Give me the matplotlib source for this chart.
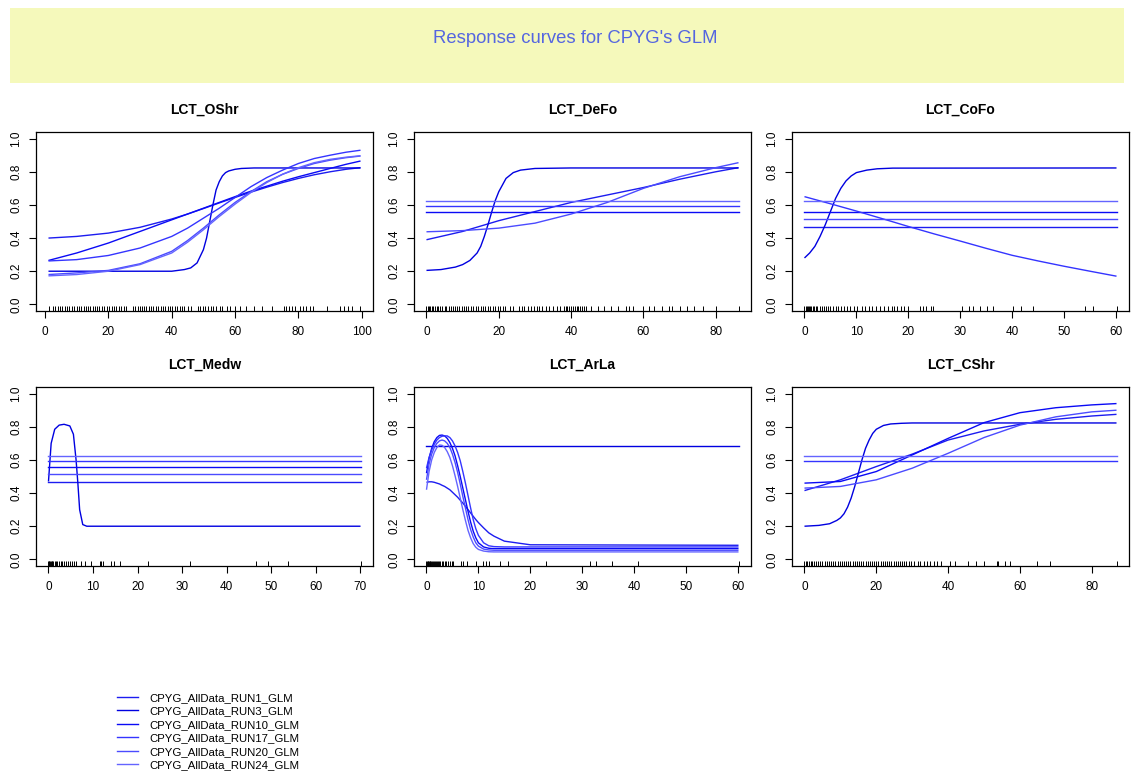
import matplotlib
matplotlib.use("Agg")
import matplotlib.pyplot as plt
from matplotlib.lines import Line2D
from matplotlib.patches import Rectangle
import matplotlib.transforms as mtrans

plt.rcParams['font.family'] = ['Liberation Sans', 'DejaVu Sans']

# ---------------- data ----------------
title = "Response curves for CPYG's GLM"
runs = ["CPYG_AllData_RUN1_GLM", "CPYG_AllData_RUN3_GLM", "CPYG_AllData_RUN10_GLM",
        "CPYG_AllData_RUN17_GLM", "CPYG_AllData_RUN20_GLM", "CPYG_AllData_RUN24_GLM"]
run_colors = ["#1c1cf0", "#0000e0", "#0a0af5", "#3434ff", "#4b4bff", "#6464ff"]
panel_titles = ["LCT_OShr", "LCT_DeFo", "LCT_CoFo", "LCT_Medw", "LCT_ArLa", "LCT_CShr"]
panel_xticks = [[0, 20, 40, 60, 80, 100], [0, 20, 40, 60, 80], [0, 10, 20, 30, 40, 50, 60],
                [0, 10, 20, 30, 40, 50, 60, 70], [0, 10, 20, 30, 40, 50, 60], [0, 20, 40, 60, 80]]
y_ticks = [0.0, 0.2, 0.4, 0.6, 0.8, 1.0]

# --- LCT_OShr ---
oshr_x = [1.1, 10, 20, 30, 40, 45, 50, 55, 60, 65, 70, 75, 80, 85, 90, 95, 99.6]
oshr_run1 = [0.40, 0.41, 0.43, 0.465, 0.515, 0.545, 0.578, 0.612, 0.645, 0.677, 0.707, 0.735, 0.76, 0.782, 0.80, 0.815, 0.825]
oshr_run10 = [0.265, 0.31, 0.37, 0.44, 0.51, 0.545, 0.58, 0.615, 0.65, 0.683, 0.713, 0.743, 0.77, 0.795, 0.82, 0.845, 0.865]
oshr_run17 = [0.262, 0.27, 0.295, 0.34, 0.41, 0.46, 0.52, 0.58, 0.645, 0.71, 0.765, 0.81, 0.85, 0.88, 0.90, 0.918, 0.93]
oshr_run20 = [0.18, 0.19, 0.205, 0.245, 0.32, 0.385, 0.46, 0.54, 0.615, 0.68, 0.74, 0.785, 0.82, 0.85, 0.87, 0.885, 0.895]
oshr_run24 = [0.172, 0.18, 0.20, 0.24, 0.31, 0.375, 0.45, 0.53, 0.605, 0.675, 0.735, 0.785, 0.825, 0.855, 0.875, 0.888, 0.897]
oshr_run3_x = [1.1, 40, 44, 46, 48, 50, 51, 52, 53, 54, 55, 56, 57, 58, 60, 62, 66, 99.6]
oshr_run3 = [0.20, 0.20, 0.21, 0.22, 0.25, 0.33, 0.40, 0.50, 0.60, 0.69, 0.74, 0.775, 0.795, 0.805, 0.815, 0.82, 0.823, 0.823]
oshr_rug = [1.3, 2.5, 3.2, 4.0, 4.8, 5.5, 6.3, 7.0, 7.6, 8.5, 9.3, 10.0, 10.8, 11.5, 12.2, 13.0, 13.6, 14.3,
            15.0, 15.8, 16.5, 17.2, 18.0, 18.7, 19.5, 20.2, 21.0, 21.8, 22.5, 23.3, 24.0, 24.8, 25.5, 27.8,
            28.5, 29.3, 30.0, 30.6, 31.3, 32.0, 32.8, 33.5, 34.2, 35.0, 35.7, 36.5, 37.2, 38.0, 38.8, 39.5,
            40.2, 41.0, 41.8, 42.5, 43.2, 44.0, 45.0, 46.0, 48.2, 49.0, 49.8, 50.6, 51.5, 52.3, 53.0, 54.0,
            55.2, 56.0, 57.5, 58.5, 60.0, 61.5, 63.5, 66.0, 68.5, 71.5, 75.3, 76.0, 77.0, 78.0, 79.0, 80.5,
            81.5, 82.5, 83.5, 84.5, 89.0, 93.2, 94.3, 95.5, 96.8, 99.5]

# --- LCT_DeFo ---
defo_x = [0, 10, 20, 30, 40, 50, 60, 70, 80, 86.3]
defo_run1 = [0.39, 0.44, 0.505, 0.56, 0.615, 0.66, 0.705, 0.755, 0.80, 0.825]
defo_run20 = [0.438, 0.445, 0.46, 0.49, 0.545, 0.615, 0.70, 0.77, 0.825, 0.855]
defo_run3_x = [0, 4, 8, 10, 12, 14, 15, 16, 17, 18, 19, 20, 22, 24, 26, 30, 40, 86.3]
defo_run3 = [0.205, 0.21, 0.225, 0.24, 0.265, 0.31, 0.35, 0.41, 0.48, 0.555, 0.625, 0.68, 0.76, 0.795, 0.81, 0.82, 0.823, 0.823]
defo_flat = {"CPYG_AllData_RUN10_GLM": 0.557, "CPYG_AllData_RUN17_GLM": 0.592, "CPYG_AllData_RUN24_GLM": 0.622}
defo_rug = [0, 0.3, 0.6, 1.0, 1.4, 1.8, 2.3, 2.8, 3.3, 3.8, 4.4, 5.0, 5.5, 6.1, 6.7, 7.2, 7.8, 8.4, 9.0,
            9.7, 10.3, 11.0, 11.6, 12.3, 13.0, 13.6, 14.3, 15.0, 15.7, 16.3, 17.0, 17.7, 18.4, 19.0, 19.7,
            20.4, 21.1, 21.8, 23.0, 24.0, 25.5, 26.3, 27.0, 28.0, 29.0, 29.8, 30.5, 31.2, 32.0, 33.0, 34.0,
            35.0, 36.0, 37.0, 38.0, 38.5, 39.0, 39.5, 40.0, 40.5, 41.0, 41.5, 42.0, 42.5, 43.0, 43.5, 44.0,
            45.5, 47.5, 49.0, 51.0, 53.0, 55.2, 56.0, 57.0, 60.0, 61.5, 63.0, 65.0, 67.0, 68.0, 70.0, 72.0,
            74.0, 76.5, 80.0, 86.3]

# --- LCT_CoFo ---
cofo_x = [0, 5, 10, 15, 20, 25, 30, 35, 40, 45, 50, 55, 60.1]
cofo_run17 = [0.65, 0.607, 0.563, 0.517, 0.47, 0.425, 0.382, 0.338, 0.296, 0.262, 0.23, 0.20, 0.17]
cofo_run3_x = [0, 1, 2, 3, 4, 5, 6, 7, 8, 9, 10, 12, 14, 17, 60.1]
cofo_run3 = [0.28, 0.31, 0.35, 0.41, 0.48, 0.56, 0.64, 0.70, 0.745, 0.775, 0.795, 0.81, 0.818, 0.822, 0.823]
cofo_flat = {"CPYG_AllData_RUN1_GLM": 0.469, "CPYG_AllData_RUN10_GLM": 0.557,
             "CPYG_AllData_RUN20_GLM": 0.515, "CPYG_AllData_RUN24_GLM": 0.622}
cofo_rug = [0, 0.2, 0.4, 0.6, 0.8, 1.0, 1.3, 1.6, 1.9, 2.2, 2.5, 2.9, 3.3, 3.7, 4.1, 4.5, 5.0, 5.5, 6.0,
            6.5, 7.0, 7.6, 8.2, 8.8, 9.5, 10.2, 11.0, 11.7, 12.5, 13.0, 13.8, 14.5, 15.3, 16.0, 16.8, 17.3,
            17.9, 18.5, 19.2, 20.0, 22.2, 22.8, 23.5, 24.3, 24.8, 30.3, 31.6, 32.5, 33.8, 35.1, 36.4, 40.1,
            41.7, 44.0, 54.0, 55.5, 60.1]

# --- LCT_Medw ---
medw_run3_x = [0, 0.6, 1.4, 2.4, 3.5, 4.8, 5.6, 6.2, 6.6, 7.0, 7.7, 8.6, 70.1]
medw_run3 = [0.47, 0.70, 0.785, 0.81, 0.815, 0.805, 0.755, 0.60, 0.46, 0.30, 0.21, 0.20, 0.20]
medw_flat = {"CPYG_AllData_RUN1_GLM": 0.469, "CPYG_AllData_RUN10_GLM": 0.557, "CPYG_AllData_RUN17_GLM": 0.592,
             "CPYG_AllData_RUN20_GLM": 0.515, "CPYG_AllData_RUN24_GLM": 0.622}
medw_rug = [0, 0.1, 0.2, 0.3, 0.5, 0.7, 0.9, 1.1, 1.4, 1.7, 2.0, 2.3, 2.7, 3.1, 3.5, 3.9, 4.3, 4.8, 5.3,
            5.8, 6.2, 7.3, 8.1, 9.6, 11.5, 11.8, 12.2, 14.1, 14.7, 16.0, 22.3, 31.7, 46.6, 49.3, 53.7, 70.1]

# --- LCT_ArLa ---
arla_x = [0, 0.5, 1, 1.5, 2, 2.5, 3, 3.5, 4, 4.5, 5, 5.5, 6, 6.5, 7, 7.5, 8, 8.5, 9, 9.5, 10, 11, 12, 13, 15, 20, 60.1]
arla_run24 = [0.42, 0.53, 0.60, 0.645, 0.675, 0.69, 0.688, 0.675, 0.65, 0.615, 0.565, 0.505, 0.44, 0.37, 0.30,
              0.235, 0.175, 0.13, 0.095, 0.073, 0.06, 0.05, 0.046, 0.045, 0.045, 0.045, 0.045]
arla_run20 = [0.48, 0.575, 0.635, 0.675, 0.70, 0.715, 0.72, 0.715, 0.70, 0.675, 0.635, 0.585, 0.525, 0.455, 0.38,
              0.31, 0.24, 0.18, 0.135, 0.10, 0.08, 0.062, 0.057, 0.055, 0.055, 0.055, 0.055]
arla_run10 = [0.52, 0.61, 0.67, 0.71, 0.735, 0.748, 0.75, 0.745, 0.73, 0.705, 0.67, 0.625, 0.565, 0.50, 0.43,
              0.36, 0.29, 0.225, 0.17, 0.13, 0.10, 0.075, 0.067, 0.065, 0.065, 0.065, 0.065]
arla_run17 = [0.55, 0.615, 0.66, 0.695, 0.72, 0.735, 0.743, 0.745, 0.745, 0.735, 0.715, 0.685, 0.645, 0.595, 0.53,
              0.46, 0.385, 0.31, 0.24, 0.185, 0.145, 0.10, 0.082, 0.077, 0.075, 0.075, 0.075]
arla_run1 = [0.465, 0.468, 0.468, 0.465, 0.46, 0.455, 0.447, 0.44, 0.43, 0.42, 0.405, 0.39, 0.375, 0.357, 0.34,
             0.32, 0.30, 0.28, 0.26, 0.24, 0.222, 0.19, 0.16, 0.14, 0.11, 0.088, 0.085]
arla_flat = {"CPYG_AllData_RUN3_GLM": 0.684}
arla_rug = [0, 0.1, 0.2, 0.3, 0.45, 0.6, 0.75, 0.9, 1.05, 1.2, 1.4, 1.6, 1.8, 2.0, 2.2, 2.45, 2.7, 2.95, 3.2,
            3.5, 3.8, 4.1, 4.5, 4.9, 5.2, 6.6, 7.0, 7.8, 9.6, 10.9, 11.4, 12.0, 14.2, 15.7, 23.0, 31.4, 32.7,
            35.7, 40.8, 60.1]

# --- LCT_CShr ---
cshr_x = [0, 10, 20, 30, 40, 50, 60, 70, 80, 86.9]
cshr_run10 = [0.46, 0.47, 0.53, 0.63, 0.73, 0.825, 0.885, 0.915, 0.932, 0.94]
cshr_run1 = [0.415, 0.48, 0.56, 0.635, 0.72, 0.775, 0.815, 0.845, 0.865, 0.875]
cshr_run20 = [0.43, 0.44, 0.48, 0.55, 0.64, 0.735, 0.81, 0.86, 0.89, 0.90]
cshr_run3_x = [0, 4, 7, 9, 10, 11, 12, 13, 14, 15, 16, 17, 18, 19, 20, 22, 24, 27, 30, 86.9]
cshr_run3 = [0.20, 0.205, 0.215, 0.235, 0.25, 0.275, 0.315, 0.37, 0.44, 0.52, 0.60, 0.67, 0.72, 0.76, 0.785,
             0.808, 0.817, 0.821, 0.823, 0.823]
cshr_flat = {"CPYG_AllData_RUN17_GLM": 0.592, "CPYG_AllData_RUN24_GLM": 0.622}
cshr_rug = [0, 0.4, 0.8, 1.2, 1.7, 2.2, 2.7, 3.2, 3.8, 4.4, 5.0, 5.6, 6.2, 6.8, 7.4, 8.0, 8.6, 9.2, 9.8,
            10.4, 11.0, 11.6, 12.2, 12.8, 13.4, 14.0, 14.6, 15.2, 15.8, 16.4, 17.0, 17.6, 18.2, 18.8, 19.4,
            20.0, 20.6, 21.2, 21.8, 22.4, 23.0, 23.6, 24.2, 24.8, 25.4, 26.0, 26.6, 27.2, 27.8, 28.4, 29.0,
            29.8, 30.6, 31.5, 32.3, 33.2, 34.0, 35.0, 36.0, 37.0, 38.0, 40.5, 42.0, 45.5, 47.8, 50.0, 53.5,
            54.0, 55.8, 57.2, 64.7, 68.4, 86.9]

# curves per panel: list of (run, x, y)
panels = [
    ([("CPYG_AllData_RUN1_GLM", oshr_x, oshr_run1), ("CPYG_AllData_RUN3_GLM", oshr_run3_x, oshr_run3),
      ("CPYG_AllData_RUN10_GLM", oshr_x, oshr_run10), ("CPYG_AllData_RUN17_GLM", oshr_x, oshr_run17),
      ("CPYG_AllData_RUN20_GLM", oshr_x, oshr_run20), ("CPYG_AllData_RUN24_GLM", oshr_x, oshr_run24)],
     {}, oshr_rug),
    ([("CPYG_AllData_RUN1_GLM", defo_x, defo_run1), ("CPYG_AllData_RUN3_GLM", defo_run3_x, defo_run3),
      ("CPYG_AllData_RUN20_GLM", defo_x, defo_run20)], defo_flat, defo_rug),
    ([("CPYG_AllData_RUN3_GLM", cofo_run3_x, cofo_run3), ("CPYG_AllData_RUN17_GLM", cofo_x, cofo_run17)],
     cofo_flat, cofo_rug),
    ([("CPYG_AllData_RUN3_GLM", medw_run3_x, medw_run3)], medw_flat, medw_rug),
    ([("CPYG_AllData_RUN1_GLM", arla_x, arla_run1), ("CPYG_AllData_RUN10_GLM", arla_x, arla_run10),
      ("CPYG_AllData_RUN17_GLM", arla_x, arla_run17), ("CPYG_AllData_RUN20_GLM", arla_x, arla_run20),
      ("CPYG_AllData_RUN24_GLM", arla_x, arla_run24)], arla_flat, arla_rug),
    ([("CPYG_AllData_RUN1_GLM", cshr_x, cshr_run1), ("CPYG_AllData_RUN3_GLM", cshr_run3_x, cshr_run3),
      ("CPYG_AllData_RUN10_GLM", cshr_x, cshr_run10), ("CPYG_AllData_RUN20_GLM", cshr_x, cshr_run20)],
     cshr_flat, cshr_rug),
]

# ---------------- figure ----------------
W, H = 1134, 774
fig = plt.figure(figsize=(W / 100, H / 100), dpi=100)
fig.patch.set_facecolor("white")

# title band
fig.patches.append(Rectangle((10 / W, 1 - 83 / H), (1124 - 10) / W, (83 - 8) / H,
                             transform=fig.transFigure, facecolor="#F5F9BB", edgecolor="none", zorder=0))
fig.text(575.5 / W, 1 - 38.5 / H, title, ha="center", va="center", fontsize=13.3, color="#5566E0")

col_of = dict(zip(runs, run_colors))
lefts = [36, 414, 792]
tops = [132, 387]
aw, ah = 337, 179

for i, (curves, flats, rug) in enumerate(panels):
    r, c = divmod(i, 3)
    ax = fig.add_axes([lefts[c] / W, 1 - (tops[r] + ah) / H, aw / W, ah / H])
    allx = [v for _, xs, _ in curves for v in xs] + list(rug)
    xmin, xmax = min(allx), max(allx)
    ext = 0.04 * (xmax - xmin)
    for run in runs:
        for rn, xs, ys in curves:
            if rn == run:
                ax.plot(xs, ys, color=col_of[run], lw=1.0, solid_capstyle="butt")
        if run in flats:
            ax.plot([xmin, xmax], [flats[run], flats[run]], color=col_of[run], lw=1.0)
    # rug
    trans = mtrans.blended_transform_factory(ax.transData, ax.transAxes)
    ax.vlines(rug, 0, 0.03, transform=trans, color="black", lw=0.7)
    ax.set_xlim(xmin - ext, xmax + ext)
    ax.set_ylim(-0.04, 1.04)
    ax.set_xticks(panel_xticks[i])
    ax.set_yticks(y_ticks)
    ax.set_yticklabels([f"{v:.1f}" for v in y_ticks], rotation=90, va="center")
    ax.tick_params(direction="out", length=5, width=0.8, labelsize=8.5, pad=6)
    ax.tick_params(axis="y", pad=5)
    for s in ax.spines.values():
        s.set_linewidth(0.9)
    ax.set_title(panel_titles[i], fontsize=10, fontweight="bold", pad=13)

handles = [Line2D([0], [0], color=col_of[rn], lw=1.0) for rn in runs]
fig.legend(handles, runs, loc="upper left", bbox_to_anchor=(117 / W, 1 - 693 / H),
           frameon=False, fontsize=8.2, handlelength=1.8, handletextpad=1.0, labelspacing=0.3,
           borderpad=0, borderaxespad=0)

fig.savefig("out.png", dpi=100)
